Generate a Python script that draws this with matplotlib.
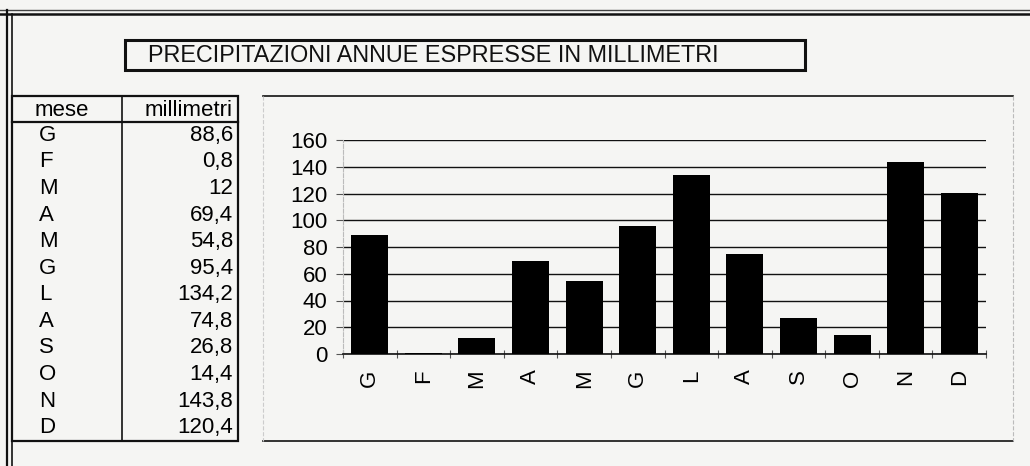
import matplotlib
matplotlib.use("Agg")
import matplotlib.pyplot as plt
from matplotlib.lines import Line2D
from matplotlib.patches import Rectangle

plt.rcParams['font.family'] = ['Liberation Sans', 'DejaVu Sans']

months = ['G', 'F', 'M', 'A', 'M', 'G', 'L', 'A', 'S', 'O', 'N', 'D']
rain_mm = [88.6, 0.8, 12, 69.4, 54.8, 95.4, 134.2, 74.8, 26.8, 14.4, 143.8, 120.4]
y_ticks = [0, 20, 40, 60, 80, 100, 120, 140, 160]
title = 'PRECIPITAZIONI ANNUE ESPRESSE IN MILLIMETRI'
col_headers = ['mese', 'millimetri']

W, H = 1030, 466
bg = '#f5f5f3'
fs = 16
fig = plt.figure(figsize=(W / 100, H / 100), dpi=100, facecolor=bg)

# background axes in pixel coordinates for the frame, title box and table
bga = fig.add_axes([0, 0, 1, 1])
bga.set_xlim(0, W)
bga.set_ylim(H, 0)
bga.axis('off')
bga.set_facecolor(bg)

def line(x0, y0, x1, y1, lw=1.2, color='#111111'):
    bga.add_line(Line2D([x0, x1], [y0, y1], lw=lw, color=color))

# outer double frame
line(0, 10, W, 10, lw=1.0, color='#444444')
line(0, 13.5, W, 13.5, lw=1.8)
line(7, 10, 7, H, lw=1.6)
line(11.5, 13.5, 11.5, H, lw=1.2)

# title box
bga.add_patch(Rectangle((125, 40), 680, 30, fill=False, lw=2.2, ec='#111111'))
bga.text(148, 56, title, fontsize=16.8, va='center', ha='left', color='#111111')

# table
tx0, tx1, tdiv = 12, 238, 122
ty0, thead, ty1 = 96, 122, 441
bga.add_patch(Rectangle((tx0, ty0), tx1 - tx0, ty1 - ty0, fill=False, lw=1.6, ec='#111111'))
line(tx0, thead, tx1, thead, lw=1.6)
line(tdiv, ty0, tdiv, ty1, lw=1.2)
bga.text(62, 110, col_headers[0], fontsize=fs, ha='center', va='center')
bga.text(233, 110, col_headers[1], fontsize=fs, ha='right', va='center')
row_h = (ty1 - thead) / len(months)
for i, (m, v) in enumerate(zip(months, rain_mm)):
    yc = thead + row_h * (i + 0.5)
    bga.text(39, yc, m, fontsize=fs, ha='left', va='center')
    bga.text(233, yc, f'{v:g}'.replace('.', ','), fontsize=fs, ha='right', va='center')

# chart box (faint dashed sides, solid top and bottom)
cx0, cx1, cy0, cy1 = 263, 1013, 96, 441
line(cx0, cy0, cx1, cy0, lw=1.2)
line(cx0, cy1, cx1, cy1, lw=1.2)
bga.add_line(Line2D([cx0, cx0], [cy0, cy1], lw=0.8, color='#cccccc', ls='--'))
bga.add_line(Line2D([cx1, cx1], [cy0, cy1], lw=0.8, color='#bbbbbb', ls='--'))

# bar chart
px0, px1, py0, py1 = 343, 986, 140, 354
ax = fig.add_axes([px0 / W, 1 - py1 / H, (px1 - px0) / W, (py1 - py0) / H])
ax.set_facecolor('none')
x = list(range(len(months)))
ax.bar(x, rain_mm, width=0.69, color='black', zorder=3)
ax.set_xlim(-0.5, len(months) - 0.5)
ax.set_ylim(0, 160)
ax.set_yticks(y_ticks)
ax.set_yticklabels([str(t) for t in y_ticks], fontsize=fs)
ax.yaxis.grid(True, color='#111111', lw=1.0)
ax.set_axisbelow(True)
ax.set_xticks([i - 0.5 for i in range(len(months) + 1)], minor=False)
ax.set_xticklabels([])
ax.set_xticks(x, minor=True)
ax.set_xticklabels(months, minor=True, rotation=90, fontsize=fs)
ax.tick_params(axis='x', which='minor', length=0, pad=11)
ax.tick_params(axis='x', which='major', direction='inout', length=6, color='#555555')
ax.tick_params(axis='y', length=5, color='#555555', pad=6)
for s in ['top', 'right']:
    ax.spines[s].set_visible(False)
ax.spines['left'].set_color('#bbbbbb')
ax.spines['left'].set_linestyle('--')
ax.spines['bottom'].set_color('#111111')
ax.spines['bottom'].set_linewidth(1.2)

fig.savefig('out.png', dpi=100, facecolor=bg)
